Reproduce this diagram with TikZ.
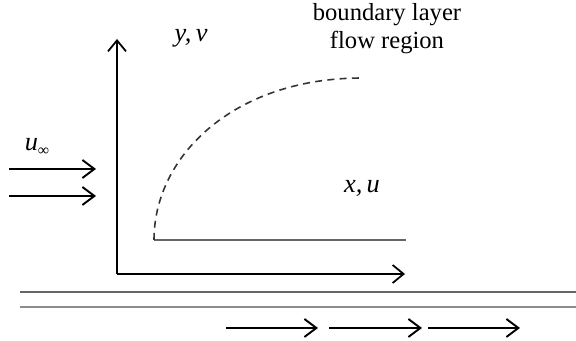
\documentclass[tikz,border=0pt]{standalone}
\usepackage{fontspec}
\setmainfont{Liberation Serif}
\usetikzlibrary{arrows.meta}
\begin{document}
\begin{tikzpicture}[x=0.02cm, y=-0.02cm,
  every node/.style={font=\fontsize{15}{17}\selectfont\itshape, inner sep=1pt},
  flow/.style={line width=1.1pt, -{Straight Barb[length=2.4mm, width=3.6mm, line width=1.1pt]}},
  axis/.style={line width=1pt, -{Straight Barb[length=2.2mm, width=3.6mm, line width=1pt]}},
  wall/.style={line width=0.8pt, black!60}]
\useasboundingbox (0,0) rectangle (576,341);
% axes
\coordinate (o) at (117,274);
\coordinate (ytip) at (117,39);
\coordinate (xtip) at (405,274);
\draw[axis] (o) -- (ytip);
\draw[axis] (o) -- (xtip);
\node (yv) at (191,38) {y,\,v};
\node (xu) at (362,188) {x,\,u};
% plate and boundary layer edge
\coordinate (lead) at (154,240);
\coordinate (trail) at (406,240);
\coordinate (bl) at (362,78);
\draw[wall] (lead) -- (trail);
\draw[dashed, line width=0.9pt, black!80, dash pattern=on 4pt off 3pt] (lead) .. controls (154,155) and (235,78) .. (bl);
\node[align=center, font=\fontsize{14}{16}\selectfont\upshape] (region) at (387,29) {boundary layer\\flow region};
% free stream
\node (uinf) at (37,147) {u\raisebox{-0.35ex}{\fontsize{9}{9}\selectfont\upshape ∞}};
\coordinate (a1) at (9,169);  \coordinate (b1) at (96,169);
\coordinate (a2) at (9,196);  \coordinate (b2) at (96,196);
\draw[flow] (a1) -- (b1);
\draw[flow] (a2) -- (b2);
% moving wall below
\coordinate (w1) at (20,292); \coordinate (w2) at (576,292);
\coordinate (w3) at (20,307); \coordinate (w4) at (576,307);
\draw[wall] (w1) -- (w2);
\draw[wall, black!45] (w3) -- (w4);
\coordinate (c1) at (226,328); \coordinate (d1) at (318,328);
\coordinate (c2) at (329,328); \coordinate (d2) at (422,328);
\coordinate (c3) at (428,328); \coordinate (d3) at (520,328);
\draw[flow] (c1) -- (d1);
\draw[flow] (c2) -- (d2);
\draw[flow] (c3) -- (d3);
\end{tikzpicture}
\end{document}
